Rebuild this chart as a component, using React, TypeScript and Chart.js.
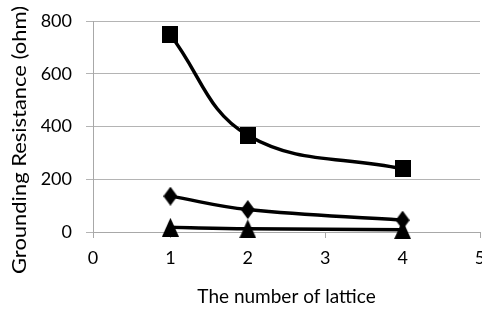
import React, { useEffect, useRef } from "react";
import { Chart, registerables } from "chart.js";
Chart.register(...registerables);

const xValues = [1, 2, 4];
const squareSeries = [747, 367, 239];
const diamondSeries = [136, 85, 45];
const triangleSeries = [18, 12, 9];
const yTitle = "Grounding Resistance (ohm)";
const xTitle = "The number of lattice";

const family = "Lato, 'Open Sans', sans-serif";

function marker(kind: string, w: number, h: number): HTMLCanvasElement {
  const c = document.createElement("canvas");
  c.width = w;
  c.height = h;
  const g = c.getContext("2d")!;
  g.fillStyle = "#000";
  g.beginPath();
  if (kind === "square") {
    g.rect(0, 0, w, h);
  } else if (kind === "diamond") {
    g.moveTo(w / 2, 0);
    g.lineTo(w, h / 2);
    g.lineTo(w / 2, h);
    g.lineTo(0, h / 2);
    g.closePath();
  } else {
    g.moveTo(w / 2, 0);
    g.lineTo(w, h);
    g.lineTo(0, h);
    g.closePath();
  }
  g.fill();
  return c;
}

const yTitlePlugin = {
  id: "yTitleStretched",
  afterDraw(chart: any) {
    const ctx = chart.ctx as CanvasRenderingContext2D;
    ctx.save();
    ctx.font = `19px ${family}`;
    ctx.fillStyle = "#000";
    ctx.textAlign = "center";
    ctx.textBaseline = "middle";
    const w = ctx.measureText(yTitle).width;
    ctx.translate(20, 140);
    ctx.rotate(-Math.PI / 2);
    ctx.scale(268 / w, 1);
    ctx.fillText(yTitle, 0, 0);
    ctx.restore();
  },
};

export default function App() {
  const ref = useRef<HTMLCanvasElement>(null);
  useEffect(() => {
    document.body.style.margin = "0";
    document.body.style.overflow = "hidden";
    const mk = (vals: number[], style: any) => ({
      data: xValues.map((x, i) => ({ x, y: vals[i] })),
      borderColor: "#000",
      backgroundColor: "#000",
      borderWidth: 3.5,
      pointStyle: style,
      pointRadius: 9,
      pointBorderWidth: 0,
      tension: 0.4,
      clip: false as any,
    });
    const chart = new Chart(ref.current!, {
      type: "line",
      data: {
        datasets: [
          mk(squareSeries, marker("square", 16, 17)),
          mk(diamondSeries, marker("diamond", 14, 19)),
          mk(triangleSeries, marker("triangle", 17, 19)),
        ],
      },
      plugins: [yTitlePlugin],
      options: {
        animation: false,
        responsive: true,
        maintainAspectRatio: false,
        layout: { padding: 0 },
        plugins: { legend: { display: false }, tooltip: { enabled: false } },
        scales: {
          x: {
            type: "linear",
            min: 0,
            max: 5,
            afterFit: (s: any) => {
              s.height = 77;
              s.paddingRight = 2;
              s.paddingLeft = 0;
            },
            ticks: { stepSize: 1, color: "#000", font: { family, size: 18 }, padding: 9 },
            grid: { drawOnChartArea: false, color: "#a8a8a8", tickLength: 6 },
            border: { color: "#a8a8a8" },
            title: {
              display: true,
              text: xTitle,
              color: "#000",
              font: { family, size: 19 },
              padding: { top: 0, bottom: 1 },
            },
          },
          y: {
            min: 0,
            max: 800,
            afterFit: (s: any) => {
              s.width = 93;
              s.paddingTop = 21;
              s.paddingBottom = 0;
            },
            ticks: { stepSize: 200, color: "#000", font: { family, size: 18 }, padding: 14 },
            grid: { color: "#b4b4b4", tickLength: 7 },
            border: { color: "#a8a8a8" },
          },
        },
      },
    });
    return () => chart.destroy();
  }, []);
  return (
    <div style={{ width: 482, height: 309, overflow: "hidden" }}>
      <div style={{ width: 489, height: 309 }}>
        <canvas ref={ref} />
      </div>
    </div>
  );
}
